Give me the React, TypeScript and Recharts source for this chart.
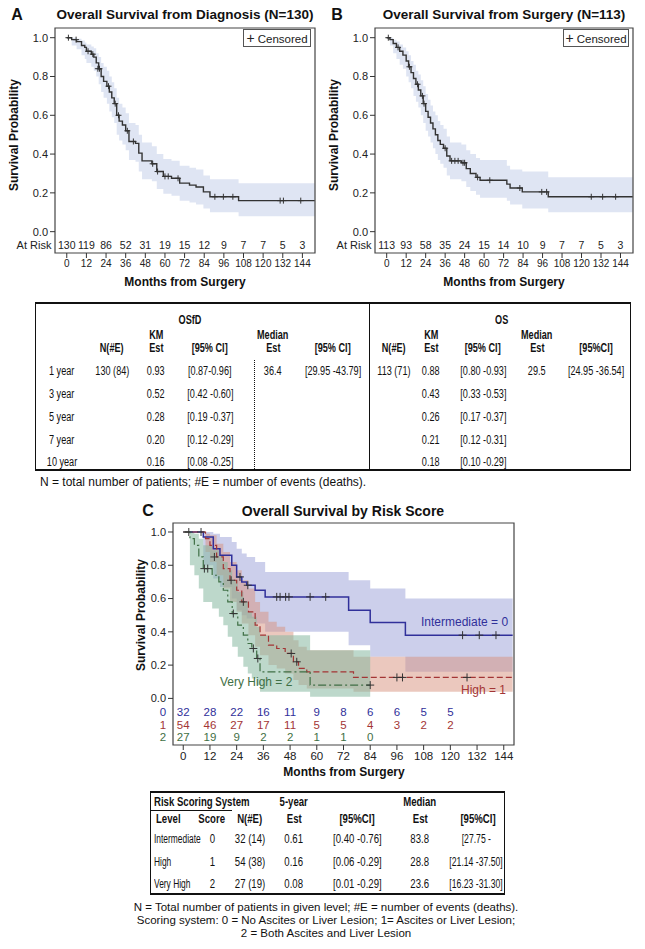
import React from "react";
import { ComposedChart, Line, Area, Scatter, XAxis, YAxis, ReferenceArea } from "recharts";

// ---- Panel A: overall survival from diagnosis (N=130) ----
const osfdMonths = [0, 3, 6, 9, 11, 12, 15, 16.5, 18, 19.5, 21, 22.5, 24.5, 26, 27.5, 29, 30.5, 32, 34, 36, 38, 42, 44, 46, 52, 55, 59, 64, 69, 75, 79, 83.5, 87.5, 105, 151.5];
const osfdSurv = [1.0, 0.99, 0.98, 0.96, 0.95, 0.93, 0.915, 0.9, 0.87, 0.84, 0.8, 0.775, 0.75, 0.72, 0.69, 0.66, 0.6, 0.57, 0.55, 0.52, 0.465, 0.455, 0.405, 0.365, 0.35, 0.31, 0.285, 0.275, 0.25, 0.24, 0.23, 0.205, 0.18, 0.16, 0.16];
const osfdLower = [1.0, 0.96, 0.94, 0.91, 0.89, 0.87, 0.85, 0.83, 0.8, 0.76, 0.72, 0.69, 0.66, 0.62, 0.59, 0.56, 0.5, 0.47, 0.45, 0.42, 0.37, 0.36, 0.31, 0.27, 0.26, 0.22, 0.195, 0.185, 0.16, 0.15, 0.14, 0.12, 0.1, 0.08, 0.08];
const osfdUpper = [1.0, 1.0, 0.995, 0.985, 0.975, 0.965, 0.955, 0.945, 0.92, 0.9, 0.87, 0.85, 0.83, 0.8, 0.77, 0.74, 0.69, 0.66, 0.64, 0.61, 0.56, 0.55, 0.5, 0.46, 0.44, 0.4, 0.375, 0.365, 0.34, 0.33, 0.32, 0.29, 0.27, 0.25, 0.25];
const osfdCensorMonths = [1, 5.7, 13, 15.9, 19, 20, 25.5, 29.6, 31.6, 37, 40.7, 52.5, 55.5, 60, 62, 68, 90.5, 95.7, 101.5, 130.4, 132.4, 143];
const osfdCensorSurv = [1.0, 0.99, 0.93, 0.915, 0.84, 0.84, 0.75, 0.66, 0.6, 0.52, 0.465, 0.35, 0.31, 0.285, 0.285, 0.275, 0.18, 0.18, 0.18, 0.16, 0.16, 0.16];
const osfdAtRisk = [130, 119, 86, 52, 31, 19, 15, 12, 9, 7, 7, 5, 3];

// ---- Panel B: overall survival from surgery (N=113) ----
const osMonths = [0, 2, 4, 6, 8, 10, 12, 13.5, 15, 16.5, 18, 19.5, 21, 22.5, 24, 25.5, 27, 28.5, 30, 31.5, 33, 35, 37, 39, 46, 49, 51.5, 55, 57.5, 74, 76, 83.5, 99.5, 151.5];
const osSurv = [1.0, 0.99, 0.97, 0.95, 0.93, 0.91, 0.88, 0.85, 0.82, 0.79, 0.76, 0.73, 0.7, 0.66, 0.62, 0.59, 0.56, 0.53, 0.5, 0.47, 0.45, 0.43, 0.39, 0.365, 0.355, 0.325, 0.3, 0.28, 0.265, 0.245, 0.225, 0.205, 0.18, 0.18];
const osLower = [1.0, 0.96, 0.92, 0.89, 0.86, 0.84, 0.8, 0.77, 0.74, 0.7, 0.67, 0.64, 0.6, 0.56, 0.52, 0.49, 0.46, 0.43, 0.4, 0.37, 0.35, 0.33, 0.29, 0.27, 0.26, 0.23, 0.21, 0.19, 0.175, 0.16, 0.14, 0.12, 0.1, 0.1];
const osUpper = [1.0, 1.0, 0.99, 0.98, 0.965, 0.95, 0.93, 0.91, 0.88, 0.86, 0.83, 0.81, 0.78, 0.75, 0.71, 0.68, 0.65, 0.62, 0.6, 0.57, 0.55, 0.53, 0.49, 0.46, 0.45, 0.42, 0.4, 0.38, 0.37, 0.34, 0.32, 0.31, 0.28, 0.28];
const osCensorMonths = [1, 7, 14, 19, 22, 23, 36, 40, 42, 44, 47, 48, 56, 63.5, 82, 95.5, 98.5, 126, 133, 141];
const osCensorSurv = [1.0, 0.95, 0.85, 0.76, 0.7, 0.66, 0.43, 0.365, 0.365, 0.365, 0.355, 0.355, 0.28, 0.265, 0.225, 0.205, 0.205, 0.18, 0.18, 0.18];
const osAtRisk = [113, 93, 58, 35, 24, 15, 14, 10, 9, 7, 7, 5, 3];

// ---- Panel C: survival by risk score ----
const interMonths = [0, 9, 13.5, 16.5, 21.8, 24, 26.3, 28.5, 32.3, 36.8, 74.3, 84, 99.8, 148];
const interSurv = [1.0, 0.97, 0.9, 0.86, 0.8, 0.73, 0.7, 0.68, 0.65, 0.61, 0.53, 0.456, 0.38, 0.38];
const interLower = [1.0, 0.8, 0.72, 0.67, 0.6, 0.53, 0.5, 0.48, 0.45, 0.4, 0.32, 0.25, 0.16, 0.16];
const interUpper = [1.0, 1.0, 0.99, 0.97, 0.94, 0.9, 0.87, 0.85, 0.82, 0.76, 0.71, 0.66, 0.6, 0.6];
const interCensorMonths = [8, 25.5, 29, 42, 43.5, 46, 47.5, 57, 64, 125.5, 133, 140.5];
const interCensorSurv = [1.0, 0.73, 0.68, 0.61, 0.61, 0.61, 0.61, 0.61, 0.61, 0.38, 0.38, 0.38];

const highMonths = [0, 10, 12, 15, 18, 21, 24, 26.3, 29.3, 32.3, 34.5, 38.3, 42, 45.8, 49.5, 51.8, 55.5, 76.5, 148];
const highSurv = [1.0, 0.96, 0.92, 0.85, 0.78, 0.71, 0.65, 0.58, 0.52, 0.44, 0.38, 0.32, 0.3, 0.27, 0.22, 0.18, 0.16, 0.126, 0.126];
const highLower = [1.0, 0.88, 0.82, 0.74, 0.66, 0.58, 0.52, 0.45, 0.38, 0.31, 0.26, 0.2, 0.18, 0.15, 0.11, 0.08, 0.06, 0.04, 0.04];
const highUpper = [1.0, 0.99, 0.98, 0.93, 0.88, 0.82, 0.77, 0.71, 0.66, 0.58, 0.52, 0.46, 0.43, 0.4, 0.35, 0.31, 0.29, 0.25, 0.25];
const highCensorMonths = [2.5, 14, 21.5, 27, 48.5, 51, 96, 98.5, 127.5];
const highCensorSurv = [1.0, 0.85, 0.71, 0.58, 0.27, 0.22, 0.126, 0.126, 0.126];

const vhighMonths = [0, 3, 5, 7, 9, 13, 16, 18, 20, 22, 24.5, 27, 29, 30.8, 33, 34.5, 57, 84];
const vhighSurv = [1.0, 0.96, 0.92, 0.85, 0.78, 0.74, 0.7, 0.65, 0.58, 0.51, 0.44, 0.38, 0.33, 0.3, 0.24, 0.16, 0.08, 0.08];
const vhighLower = [1.0, 0.8, 0.74, 0.66, 0.58, 0.54, 0.49, 0.44, 0.37, 0.31, 0.25, 0.19, 0.15, 0.12, 0.08, 0.04, 0.01, 0.01];
const vhighUpper = [1.0, 1.0, 0.99, 0.96, 0.92, 0.89, 0.86, 0.82, 0.77, 0.71, 0.64, 0.58, 0.52, 0.49, 0.43, 0.38, 0.29, 0.29];
const vhighCensorMonths = [9.5, 11, 22.5, 31.5, 33.5, 84];
const vhighCensorSurv = [0.78, 0.78, 0.51, 0.3, 0.24, 0.08];

const interAtRisk = [32, 28, 22, 16, 11, 9, 8, 6, 6, 5, 5];
const highAtRisk = [54, 46, 27, 17, 11, 5, 5, 4, 3, 2, 2];
const vhighAtRisk = [27, 19, 9, 2, 2, 1, 1, 0];

const monthTicks = [0, 12, 24, 36, 48, 60, 72, 84, 96, 108, 120, 132, 144];
const probTicks = [0, 0.2, 0.4, 0.6, 0.8, 1.0];

// ---- tables ----
const yearLabels = ["1 year", "3 year", "5 year", "7 year", "10 year"];
const osfdKm = ["0.93", "0.52", "0.28", "0.20", "0.16"];
const osfdCi = ["[0.87-0.96]", "[0.42 -0.60]", "[0.19 -0.37]", "[0.12 -0.29]", "[0.08 -0.25]"];
const osKm = ["0.88", "0.43", "0.26", "0.21", "0.18"];
const osCi = ["[0.80 -0.93]", "[0.33 -0.53]", "[0.17 -0.37]", "[0.12 -0.31]", "[0.10 -0.29]"];

const riskLevels = ["Intermediate", "High", "Very High"];
const riskScores = ["0", "1", "2"];
const riskN = ["32 (14)", "54 (38)", "27 (19)"];
const risk5yr = ["0.61", "0.16", "0.08"];
const risk5yrCi = ["[0.40 -0.76]", "[0.06 -0.29]", "[0.01 -0.29]"];
const riskMedian = ["83.8", "28.8", "23.6"];
const riskMedianCi = ["[27.75 -", "[21.14 -37.50]", "[16.23 -31.30]"];

const SANS = "'Liberation Sans', Arial, sans-serif";

const toSteps = (t: number[], s: number[], lo: number[], hi: number[]) =>
  t.map((m, i) => ({ t: m, s: s[i], lo: lo[i], hi: hi[i] }));
const toPoints = (t: number[], s: number[]) => t.map((m, i) => ({ t: m, s: s[i] }));
const toCounts = (counts: number[], level: number) =>
  counts.map((n, i) => ({ t: monthTicks[i], s: level, n }));

const bandKey = (d: { lo: number; hi: number }) => [d.lo, d.hi];

const plus = (arm: number, color: string) => (props: any) => {
  const { cx, cy } = props;
  if (cx == null || cy == null) return <g />;
  return (
    <path d={`M${cx - arm},${cy}h${arm * 2}M${cx},${cy - arm}v${arm * 2}`} stroke={color} strokeWidth={1} fill="none" />
  );
};

const countText = (color: string, size: number) => (props: any) => {
  const { cx, cy, payload } = props;
  if (cx == null || cy == null) return <g />;
  return (
    <text x={cx} y={cy} dy="0.35em" textAnchor="middle" fontSize={size} fill={color}>
      {payload.n}
    </text>
  );
};

// text block centred on (x, y); "narrow" squeezes it horizontally like Arial Narrow
function T({ x, y, w = 90, align = "center", bold = false, size = 12, color = "#111", narrow = 0.76, children }: any) {
  const left = align === "center" ? x - w / 2 : align === "right" ? x - w : x;
  return (
    <div
      style={{
        position: "absolute", left, top: y - 8, width: w, height: 16, lineHeight: "16px",
        textAlign: align, fontWeight: bold ? "bold" : "normal", fontSize: size, color,
        whiteSpace: "nowrap", fontFamily: SANS,
      }}
    >
      <span style={{ display: "inline-block", transform: `scaleX(${narrow})`, transformOrigin: align }}>{children}</span>
    </div>
  );
}

function VLabel({ x, y, children }: any) {
  return (
    <div
      style={{
        position: "absolute", left: x - 80, top: y - 8, width: 160, height: 16, lineHeight: "16px",
        textAlign: "center", fontWeight: "bold", fontSize: 12, fontFamily: SANS, color: "#111",
        transform: "rotate(-90deg)",
      }}
    >
      {children}
    </div>
  );
}

const KM_X: [number, number] = [-7.2, 151.7];
const KM_Y: [number, number] = [-0.11, 1.05];

function KmPanel({ left, width, letter, title, steps, censors, atRisk }: any) {
  const frameCenter = left + 55 + (width - 62) / 2;
  return (
    <>
      <T x={left + 17} y={15} w={20} bold size={16} narrow={1}>{letter}</T>
      <T x={frameCenter} y={15} w={300} bold size={13.5} narrow={1}>{title}</T>
      <VLabel x={left + 14} y={135}>Survival Probability</VLabel>
      <T x={left + 34} y={245} w={50} size={11} color="#222" narrow={1}>At Risk</T>
      <T x={frameCenter} y={282} w={200} bold size={12} narrow={1}>Months from Surgery</T>
      <div style={{ position: "absolute", left, top: 0, width, height: 290 }}>
        <ComposedChart width={width} height={290} margin={{ top: 28, right: 7, bottom: 7, left: 25 }}>
          <XAxis
            type="number" dataKey="t" domain={KM_X} ticks={monthTicks} allowDataOverflow interval={0}
            axisLine={false} tickSize={5} tickMargin={2} height={30}
            tick={{ fontSize: 10, fill: "#222" }} tickLine={{ stroke: "#333" }}
          />
          <YAxis
            type="number" domain={KM_Y} ticks={probTicks} allowDataOverflow interval={0}
            tickFormatter={(v: number) => v.toFixed(1)} axisLine={false} tickSize={5} tickMargin={2} width={30}
            tick={{ fontSize: 11, fill: "#222" }} tickLine={{ stroke: "#333" }}
          />
          <Area data={steps} type="stepAfter" dataKey={bandKey} stroke="none" fill="#dfe5f3" fillOpacity={1} isAnimationActive={false} />
          <Line data={steps} type="stepAfter" dataKey="s" stroke="#333" strokeWidth={1.4} dot={false} isAnimationActive={false} />
          <Scatter data={censors} dataKey="s" shape={plus(3, "#333")} isAnimationActive={false} />
          <Scatter data={toCounts(atRisk, -0.069)} dataKey="s" shape={countText("#222", 10.5)} isAnimationActive={false} />
          <ReferenceArea x1={KM_X[0]} x2={KM_X[1]} y1={KM_Y[0]} y2={KM_Y[1]} fill="none" stroke="#444" strokeWidth={1.2} ifOverflow="visible" />
        </ComposedChart>
      </div>
      <div
        style={{
          position: "absolute", left: left + 243, top: 29, width: width - 254, height: 18,
          border: "1px solid #555", boxSizing: "border-box", background: "#fff",
          fontFamily: SANS, fontSize: 11.5, lineHeight: "16px", textAlign: "center", color: "#222",
        }}
      >
        <span style={{ fontSize: 14, fontWeight: 300 }}>+</span> Censored
      </div>
    </>
  );
}

const C_X: [number, number] = [-4.6, 148.6];
const C_Y: [number, number] = [-0.28, 1.054];
const BLUE = "#30309a";
const RED = "#a33535";
const GREEN = "#3f6f45";

function RiskPanel() {
  const inter = toSteps(interMonths, interSurv, interLower, interUpper);
  const high = toSteps(highMonths, highSurv, highLower, highUpper);
  const vhigh = toSteps(vhighMonths, vhighSurv, vhighLower, vhighUpper);
  return (
    <>
      <T x={148} y={511} w={20} bold size={16} narrow={1}>C</T>
      <T x={343} y={511} w={300} bold size={14} narrow={1}>Overall Survival by Risk Score</T>
      <VLabel x={141} y={615}>Survival Probability</VLabel>
      <T x={344} y={772} w={200} bold size={12} narrow={1}>Months from Surgery</T>
      <div style={{ position: "absolute", left: 140, top: 500, width: 380, height: 280 }}>
        <ComposedChart width={380} height={280} margin={{ top: 23, right: 6, bottom: 5, left: 8 }}>
          <XAxis
            type="number" dataKey="t" domain={C_X} ticks={monthTicks} allowDataOverflow interval={0}
            axisLine={false} tickSize={5} tickMargin={2} height={30}
            tick={{ fontSize: 11.5, fill: "#222" }} tickLine={{ stroke: "#333" }}
          />
          <YAxis
            type="number" domain={C_Y} ticks={probTicks} allowDataOverflow interval={0}
            tickFormatter={(v: number) => v.toFixed(1)} axisLine={false} tickSize={5} tickMargin={2} width={25}
            tick={{ fontSize: 11, fill: "#222" }} tickLine={{ stroke: "#333" }}
          />
          <Area data={inter} type="stepAfter" dataKey={bandKey} stroke="none" fill="#9aa0d8" fillOpacity={0.5} isAnimationActive={false} />
          <Area data={high} type="stepAfter" dataKey={bandKey} stroke="none" fill="#d8917e" fillOpacity={0.5} isAnimationActive={false} />
          <Area data={vhigh} type="stepAfter" dataKey={bandKey} stroke="none" fill="#86b8a0" fillOpacity={0.55} isAnimationActive={false} />
          <Line data={inter} type="stepAfter" dataKey="s" stroke={BLUE} strokeWidth={1.5} dot={false} isAnimationActive={false} />
          <Line data={high} type="stepAfter" dataKey="s" stroke={RED} strokeWidth={1.2} strokeDasharray="6 3" dot={false} isAnimationActive={false} />
          <Line data={vhigh} type="stepAfter" dataKey="s" stroke={GREEN} strokeWidth={1.2} strokeDasharray="8 3 2 3" dot={false} isAnimationActive={false} />
          <Scatter data={toPoints(interCensorMonths, interCensorSurv)} dataKey="s" shape={plus(4, "#333")} isAnimationActive={false} />
          <Scatter data={toPoints(highCensorMonths, highCensorSurv)} dataKey="s" shape={plus(4, "#333")} isAnimationActive={false} />
          <Scatter data={toPoints(vhighCensorMonths, vhighCensorSurv)} dataKey="s" shape={plus(4, "#333")} isAnimationActive={false} />
          <Scatter data={toCounts(interAtRisk, -0.082)} dataKey="s" shape={countText(BLUE, 11.5)} isAnimationActive={false} />
          <Scatter data={toCounts(highAtRisk, -0.158)} dataKey="s" shape={countText(RED, 11.5)} isAnimationActive={false} />
          <Scatter data={toCounts(vhighAtRisk, -0.232)} dataKey="s" shape={countText(GREEN, 11.5)} isAnimationActive={false} />
          <ReferenceArea x1={C_X[0]} x2={C_X[1]} y1={C_Y[0]} y2={C_Y[1]} fill="none" stroke="#444" strokeWidth={1.2} ifOverflow="visible" />
        </ComposedChart>
      </div>
      <T x={163} y={712} w={12} size={11.5} color={BLUE} narrow={1}>0</T>
      <T x={163} y={725} w={12} size={11.5} color={RED} narrow={1}>1</T>
      <T x={163} y={737} w={12} size={11.5} color={GREEN} narrow={1}>2</T>
      <T x={421} y={622} w={100} align="left" size={12} color={BLUE} narrow={1}>Intermediate = 0</T>
      <T x={461} y={690} w={60} align="left" size={12} color={RED} narrow={1}>High = 1</T>
      <T x={220} y={682} w={90} align="left" size={12} color={GREEN} narrow={1}>Very High = 2</T>
    </>
  );
}

function SurvivalTable() {
  const rowY = [371, 394, 417, 440, 462];
  return (
    <>
      <div style={{ position: "absolute", left: 35, top: 302, width: 596, height: 169, borderTop: "2px solid #111", borderBottom: "2px solid #111", borderLeft: "1px solid #111", borderRight: "1.5px solid #111", boxSizing: "border-box" }} />
      <div style={{ position: "absolute", left: 369, top: 302, width: 0, height: 169, borderLeft: "1px solid #111" }} />
      <div style={{ position: "absolute", left: 254, top: 360, width: 0, height: 109, borderLeft: "1px dotted #111" }} />
      <T x={190} y={320} bold>OSfD</T>
      <T x={502} y={320} bold>OS</T>
      <T x={156} y={335} bold>KM</T>
      <T x={273} y={335} bold>Median</T>
      <T x={431} y={335} bold>KM</T>
      <T x={537} y={335} bold>Median</T>
      <T x={112} y={348} bold>N(#E)</T>
      <T x={156} y={348} bold>Est</T>
      <T x={210} y={348} bold>[95% CI]</T>
      <T x={273} y={348} bold>Est</T>
      <T x={333} y={348} bold>[95% CI]</T>
      <T x={394} y={348} bold>N(#E)</T>
      <T x={431} y={348} bold>Est</T>
      <T x={483} y={348} bold>[95% CI]</T>
      <T x={537} y={348} bold>Est</T>
      <T x={596} y={348} bold>[95%CI]</T>
      {yearLabels.map((lab, i) => (
        <React.Fragment key={lab}>
          <T x={62} y={rowY[i]}>{lab}</T>
          <T x={156} y={rowY[i]}>{osfdKm[i]}</T>
          <T x={210} y={rowY[i]}>{osfdCi[i]}</T>
          <T x={431} y={rowY[i]}>{osKm[i]}</T>
          <T x={483} y={rowY[i]}>{osCi[i]}</T>
        </React.Fragment>
      ))}
      <T x={112} y={rowY[0]}>130 (84)</T>
      <T x={273} y={rowY[0]}>36.4</T>
      <T x={333} y={rowY[0]}>[29.95 -43.79]</T>
      <T x={394} y={rowY[0]}>113 (71)</T>
      <T x={537} y={rowY[0]}>29.5</T>
      <T x={596} y={rowY[0]}>[24.95 -36.54]</T>
      <T x={40} y={482} w={400} align="left" size={12} narrow={1}>N = total number of patients; #E = number of events (deaths).</T>
    </>
  );
}

function RiskTable() {
  const rowY = [839, 862, 884];
  return (
    <>
      <div style={{ position: "absolute", left: 150, top: 791, width: 355, height: 104, borderTop: "2px solid #111", borderBottom: "2px solid #111", borderLeft: "1px solid #111", borderRight: "1px solid #111", boxSizing: "border-box" }} />
      <div style={{ position: "absolute", left: 150, top: 810, width: 82, height: 0, borderTop: "1px solid #111" }} />
      <T x={154} y={802} w={90} align="left" bold narrow={0.8}>Risk Scoring System</T>
      <T x={294} y={802} bold narrow={0.8}>5-year</T>
      <T x={420} y={802} bold narrow={0.8}>Median</T>
      <T x={156} y={819} w={50} align="left" bold narrow={0.8}>Level</T>
      <T x={212} y={819} w={40} bold narrow={0.8}>Score</T>
      <T x={250} y={819} bold narrow={0.8}>N(#E)</T>
      <T x={294} y={819} bold narrow={0.8}>Est</T>
      <T x={357} y={819} bold narrow={0.8}>[95%CI]</T>
      <T x={420} y={819} bold narrow={0.8}>Est</T>
      <T x={478} y={819} bold narrow={0.8}>[95%CI]</T>
      {riskLevels.map((lev, i) => (
        <React.Fragment key={lev}>
          <T x={154} y={rowY[i]} w={48} align="left" size={12} narrow={0.7}>{lev}</T>
          <T x={212} y={rowY[i]} w={20} narrow={0.8}>{riskScores[i]}</T>
          <T x={250} y={rowY[i]} narrow={0.8}>{riskN[i]}</T>
          <T x={294} y={rowY[i]} narrow={0.8}>{risk5yr[i]}</T>
          <T x={357} y={rowY[i]} narrow={0.8}>{risk5yrCi[i]}</T>
          <T x={420} y={rowY[i]} narrow={0.8}>{riskMedian[i]}</T>
          <T x={476} y={rowY[i]} narrow={0.72}>{riskMedianCi[i]}</T>
        </React.Fragment>
      ))}
      <T x={326} y={907} w={420} size={11.5} narrow={1}>N = Total number of patients in given level; #E = number of events (deaths).</T>
      <T x={326} y={920} w={420} size={11.5} narrow={1}>Scoring system: 0 = No Ascites or Liver Lesion; 1= Ascites or Liver Lesion;</T>
      <T x={326} y={933} w={420} size={11.5} narrow={1}>2 = Both Ascites and Liver Lesion</T>
    </>
  );
}

export default function App() {
  const osfdSteps = toSteps(osfdMonths, osfdSurv, osfdLower, osfdUpper);
  const osSteps = toSteps(osMonths, osSurv, osLower, osUpper);
  return (
    <div style={{ position: "absolute", left: 0, top: 0, width: 645, height: 949, background: "#fff", fontFamily: SANS, color: "#111", overflow: "hidden" }}>
      <KmPanel
        left={0} width={322} letter="A" title="Overall Survival from Diagnosis (N=130)"
        steps={osfdSteps} censors={toPoints(osfdCensorMonths, osfdCensorSurv)} atRisk={osfdAtRisk}
      />
      <KmPanel
        left={320} width={320} letter="B" title="Overall Survival from Surgery (N=113)"
        steps={osSteps} censors={toPoints(osCensorMonths, osCensorSurv)} atRisk={osAtRisk}
      />
      <SurvivalTable />
      <RiskPanel />
      <RiskTable />
    </div>
  );
}
